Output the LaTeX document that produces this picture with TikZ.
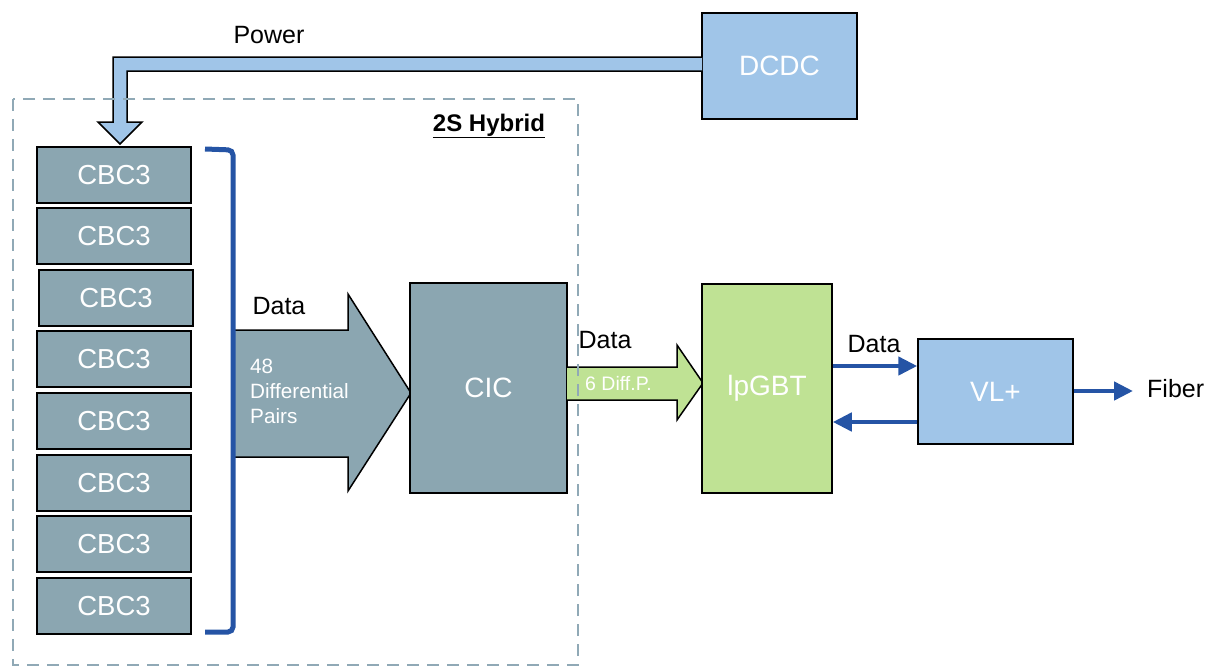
\documentclass[tikz,border=0pt]{standalone}
\usepackage{fontspec}
\setmainfont{Liberation Sans}
\usetikzlibrary{arrows.meta}
\definecolor{chip}{HTML}{8BA6B1}
\definecolor{dashcol}{HTML}{90A9B6}
\definecolor{lblue}{HTML}{A0C5E8}
\definecolor{lgreen}{HTML}{BFE294}
\definecolor{dblue}{HTML}{2554A5}
\tikzset{
  chipbox/.style={draw=black, line width=1.5pt, fill=chip, text=white, font=\fontsize{27.5}{32}\selectfont, minimum width=154pt, minimum height=56pt, inner sep=0pt},
  bigbox/.style={draw=black, line width=1.5pt, text=white, font=\fontsize{28}{33}\selectfont, inner sep=0pt},
  fatarrow/.style={draw=black, line width=1.5pt, line join=miter},
  bluearrow/.style={draw=dblue, line width=4.5pt, -{Triangle[length=19pt,width=18pt]}},
  lbl/.style={font=\fontsize{25}{30}\selectfont, inner sep=0pt}
}
\begin{document}
\begin{tikzpicture}[x=1pt,y=-1pt]
\useasboundingbox (0,0) rectangle (1208,667);
% DCDC and power arrow
\node[bigbox, fill=lblue, minimum width=155pt, minimum height=106pt] (dcdc) at (779.5,66) {DCDC};
\filldraw[fatarrow, fill=lblue] (702,57) -- (113,57) -- (113,122) -- (98,122) -- (120,144) -- (142,122) -- (127,122) -- (127,71) -- (702,71);
\node[lbl] (power) at (269,35) {Power};
% CBC3 chips
\node[chipbox] (c1) at (114,175) {CBC3};
\node[chipbox] (c2) at (114,236) {CBC3};
\node[chipbox] (c3) at (116,298) {CBC3};
\node[chipbox] (c4) at (114,359) {CBC3};
\node[chipbox] (c5) at (114,421) {CBC3};
\node[chipbox] (c6) at (114,483) {CBC3};
\node[chipbox] (c7) at (114,544) {CBC3};
\node[chipbox] (c8) at (114,606) {CBC3};
% big data arrow
\filldraw[fatarrow, fill=chip] (232,330) -- (348,330) -- (348,294) -- (411,393) -- (348,491) -- (348,457) -- (232,457) -- cycle;
\node[anchor=north west, align=left, text=white, font=\fontsize{20.7}{25}\selectfont, inner sep=0pt] (pairs) at (250,359) {48\\Differential\\Pairs};
\node[lbl] (data1) at (279,306) {Data};
% bracket
\draw[dblue, line width=5pt, rounded corners=5pt] (205,149) -- (233,150) -- (233,632) -- (205,632);
% CIC
\node[bigbox, fill=chip, minimum width=157pt, minimum height=210pt] (cic) at (488.5,388) {CIC};
% green arrow
\filldraw[fatarrow, fill=lgreen] (567,367) -- (677,367) -- (677,345) -- (703,383) -- (677,420) -- (677,400) -- (567,400);
\node[anchor=west, text=white, font=\fontsize{19.5}{23}\selectfont, inner sep=0pt] (diff) at (585,384) {6 Diff.P.};
\node[lbl] (data2) at (605,340) {Data};
% hybrid box
\draw[dashcol, line width=2.5pt, dash pattern=on 12pt off 8pt] (13,99) rectangle (578,665);
\node[font=\bfseries\fontsize{24}{29}\selectfont, inner sep=0pt] (hyb) at (489,126) {\underline{2S Hybrid}};
% lpGBT and VL+
\node[bigbox, fill=lgreen, minimum width=130pt, minimum height=209pt] (lp) at (767,388.5) {lpGBT};
\node[bigbox, fill=lblue, minimum width=155pt, minimum height=105pt] (vl) at (995.5,391.5) {VL+};
\draw[bluearrow] ([yshift=22.5pt]lp.east) -- ([yshift=22.5pt]lp.east -| vl.west);
\draw[bluearrow] ([yshift=-33.5pt]lp.east -| vl.west) -- ([yshift=-33.5pt]lp.east);
\coordinate (fib) at (1133,391);
\draw[bluearrow] (vl.east |- fib) -- (fib);
\node[lbl, anchor=west] (fiber) at (1147,389) {Fiber};
\node[lbl] (data3) at (874,344) {Data};
\end{tikzpicture}
\end{document}
